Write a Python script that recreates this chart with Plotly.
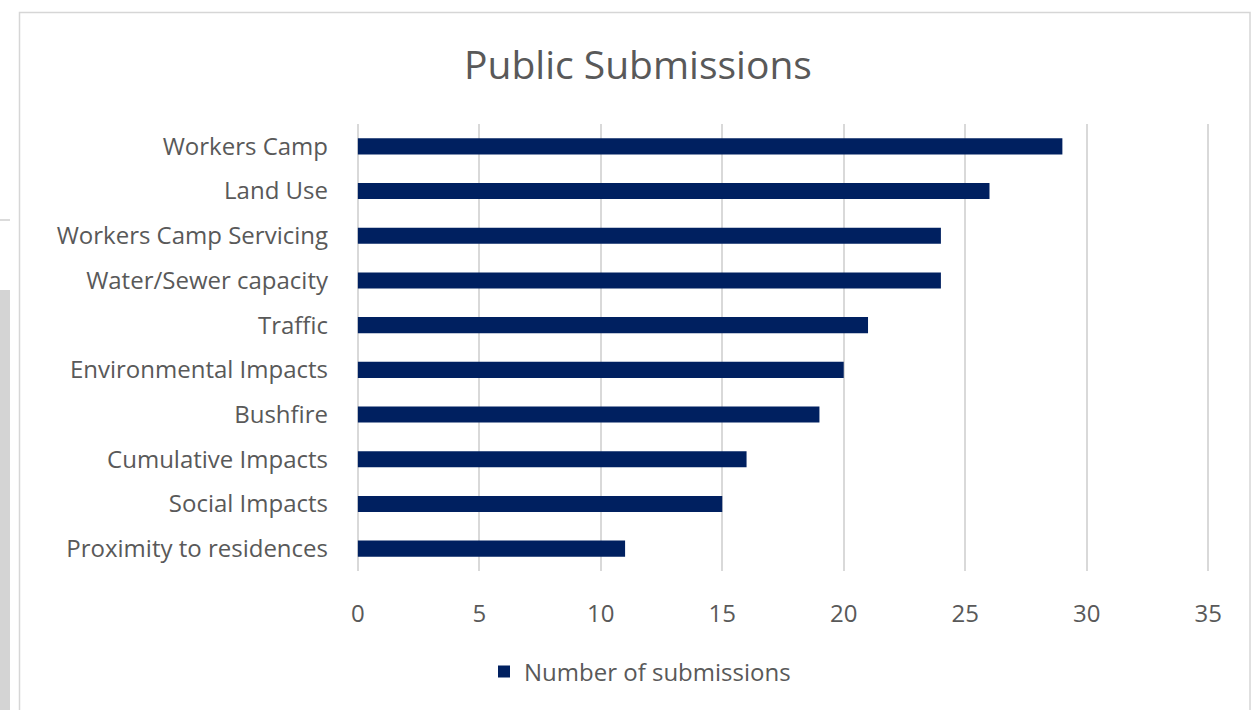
import plotly.graph_objects as go

categories = ["Workers Camp", "Land Use", "Workers Camp Servicing", "Water/Sewer capacity",
              "Traffic", "Environmental Impacts", "Bushfire", "Cumulative Impacts",
              "Social Impacts", "Proximity to residences"]
values = [29, 26, 24, 24, 21, 20, 19, 16, 15, 11]
series_name = "Number of submissions"
x_ticks = [0, 5, 10, 15, 20, 25, 30, 35]
title_text = "Public Submissions"

W, H = 1251, 710
L, R, T, B = 353, 1213, 124, 571

def px(x):
    return (x - L) / (R - L)

def py(y):
    return (B - y) / (B - T)

FONT = "Open Sans"
GREY = "#595959"
FS = 24

fig = go.Figure()
fig.add_trace(go.Bar(
    x=values, y=categories, orientation="h", name=series_name,
    marker=dict(color="#002060", line=dict(width=0)),
    showlegend=True,
))

shapes = [
    # outer card border
    dict(type="rect", xref="paper", yref="paper",
         x0=px(19.5), x1=px(1250), y0=py(715), y1=py(12.5),
         line=dict(color="#d6d6d6", width=1.5), fillcolor="rgba(0,0,0,0)", layer="below"),
    # left grey strip
    dict(type="rect", xref="paper", yref="paper",
         x0=px(-2), x1=px(10), y0=py(715), y1=py(290),
         line=dict(width=0), fillcolor="#d4d4d4", layer="below"),
    dict(type="line", xref="paper", yref="paper",
         x0=px(-2), x1=px(10), y0=py(220), y1=py(220),
         line=dict(color="#cfcfcf", width=1.5), layer="below"),
]

fig.update_layout(
    width=W, height=H,
    margin=dict(l=L, r=W - R, t=T, b=H - B, pad=0),
    paper_bgcolor="white", plot_bgcolor="white",
    font=dict(family=FONT, color=GREY, size=FS),
    title=dict(text=title_text, x=638 / W, xref="container", xanchor="center",
               y=1 - 65 / H, yref="container", yanchor="middle",
               font=dict(family=FONT, size=39, color=GREY)),
    bargap=0.64,
    xaxis=dict(range=[-0.2, 35.2], tickvals=x_ticks, showgrid=True, gridcolor="#d9d9d9",
               gridwidth=2, zeroline=True, zerolinecolor="#d9d9d9", zerolinewidth=2,
               showline=False, ticks="",
               ticklabelstandoff=26, tickfont=dict(size=FS, color=GREY), fixedrange=True),
    yaxis=dict(autorange="reversed", showgrid=False, zeroline=False, showline=False,
               ticks="", ticklabelstandoff=24, tickfont=dict(size=FS, color=GREY), fixedrange=True),
    legend=dict(orientation="h", x=640 / W, xref="container", xanchor="center",
                y=1 - 672 / H, yref="container", yanchor="middle",
                font=dict(size=FS, color=GREY), itemwidth=30),
    shapes=shapes,
)

fig.write_html("out.html", config={"displayModeBar": False},
               post_script="document.body.style.margin='0px';document.body.style.padding='0px';")
